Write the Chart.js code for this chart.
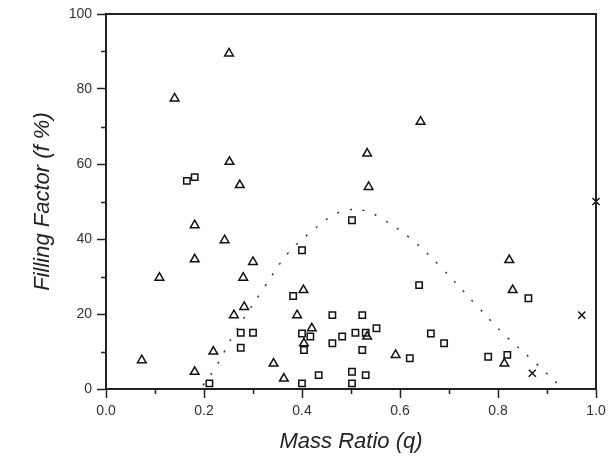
<!DOCTYPE html>
<html>
<head>
<meta charset="utf-8">
<script src="https://cdn.jsdelivr.net/npm/chart.js@4"></script>
<style>
  html, body { margin: 0; padding: 0; background: #fff; }
  #wrap { width: 615px; height: 459px; }
</style>
</head>
<body>
<div id="wrap"><canvas id="chart" width="615" height="459"></canvas></div>
<script>
// mass ratio q vs filling factor f (%)
const triQ = [0.251, 0.140, 0.252, 0.273, 0.642, 0.533, 0.536, 0.181, 0.242, 0.181, 0.109, 0.300, 0.280, 0.282, 0.261,
  0.073, 0.219, 0.181, 0.342, 0.403, 0.390, 0.420, 0.404, 0.533, 0.591, 0.363, 0.823, 0.830, 0.813];
const triF = [89.5, 77.5, 60.6, 54.4, 71.3, 62.8, 53.9, 43.7, 39.7, 34.6, 29.7, 33.9, 29.7, 21.9, 19.7,
  7.7, 10.0, 4.6, 6.8, 26.4, 19.7, 16.2, 12.2, 14.0, 9.1, 2.8, 34.4, 26.4, 6.8];

const sqQ = [0.181, 0.165, 0.502, 0.400, 0.382, 0.462, 0.523, 0.400, 0.417, 0.404, 0.482, 0.462, 0.509, 0.530, 0.552,
  0.523, 0.639, 0.663, 0.620, 0.400, 0.434, 0.502, 0.502, 0.530, 0.690, 0.862, 0.819, 0.780, 0.275, 0.300, 0.275, 0.211];
const sqF = [56.5, 55.5, 45.0, 37.0, 24.8, 19.7, 19.7, 14.8, 14.0, 10.4, 14.0, 12.2, 15.0, 15.0, 16.2,
  10.4, 27.7, 14.8, 8.2, 1.5, 3.7, 4.6, 1.5, 3.7, 12.2, 24.2, 9.1, 8.6, 15.0, 15.0, 11.0, 1.5];

const crQ = [1.0, 0.971, 0.870];
const crF = [50.0, 19.7, 4.2];

// dotted boundary curve
const fitQ = [0.198, 0.225, 0.26, 0.321, 0.372, 0.423, 0.458, 0.491, 0.53, 0.564, 0.62, 0.681, 0.759, 0.816, 0.877, 0.924];
const fitF = [1.0, 6.0, 14.4, 26.7, 36.3, 42.4, 45.9, 47.7, 47.5, 45.3, 40.3, 32.8, 21.9, 14.1, 6.9, 1.1];

const xTicks = ["0.0", "0.2", "0.4", "0.6", "0.8", "1.0"];
const yTicks = ["0", "20", "40", "60", "80", "100"];

const pts = (xs, ys) => xs.map((x, i) => ({ x, y: ys[i] }));

// short minor ticks between the labelled ones, plus the closed frame
const minorTicks = {
  id: "minorTicks",
  afterDraw(chart) {
    const { ctx, scales: { x, y } } = chart;
    ctx.save();
    ctx.strokeStyle = "#222";
    ctx.lineWidth = 1.5;
    ctx.beginPath();
    for (let v = 0.1; v < 1; v += 0.2) {
      const px = Math.round(x.getPixelForValue(v)) + 0.5;
      ctx.moveTo(px, x.top);
      ctx.lineTo(px, x.top + 5);
    }
    for (let v = 10; v < 100; v += 20) {
      const py = Math.round(y.getPixelForValue(v)) + 0.5;
      ctx.moveTo(y.right, py);
      ctx.lineTo(y.right - 5, py);
    }
    ctx.stroke();
    ctx.lineWidth = 2;
    ctx.strokeRect(x.left, y.top, x.right - x.left, y.bottom - y.top);
    ctx.restore();
  }
};

const marker = (label, data, style, r) => ({
  type: "scatter",
  label,
  data,
  pointStyle: style,
  pointRadius: r,
  pointBorderWidth: 1.5,
  borderColor: "#111",
  backgroundColor: "rgba(0,0,0,0)",
  clip: false
});

new Chart(document.getElementById("chart"), {
  data: {
    datasets: [
      {
        type: "line",
        label: "boundary",
        data: pts(fitQ, fitF),
        borderColor: "#333",
        borderWidth: 1.5,
        borderDash: [2, 11],
        pointRadius: 0,
        tension: 0.4,
        fill: false
      },
      marker("triangles", pts(triQ, triF), "triangle", 5),
      marker("squares", pts(sqQ, sqF), "rect", 4.5),
      marker("crosses", pts(crQ, crF), "crossRot", 5)
    ]
  },
  options: {
    responsive: false,
    animation: false,
    layout: { padding: { left: 26, right: 19, top: 14, bottom: 0 } },
    plugins: { legend: { display: false }, tooltip: { enabled: false } },
    scales: {
      x: {
        type: "linear",
        min: 0, max: 1,
        afterFit: s => { s.height = 70; },
        afterBuildTicks: s => { s.ticks = xTicks.map(t => ({ value: parseFloat(t) })); },
        ticks: {
          callback: (v, i) => xTicks[i],
          color: "#333",
          font: { family: "Liberation Sans", size: 14 },
          padding: 5
        },
        grid: { drawOnChartArea: false, tickLength: 9, tickWidth: 1.5, tickColor: "#222" },
        border: { color: "#222", width: 2 },
        title: {
          display: true,
          text: "Mass Ratio (q)",
          color: "#222",
          font: { family: "Liberation Sans", size: 22, style: "italic" },
          padding: { top: 1 }
        }
      },
      y: {
        type: "linear",
        min: 0, max: 100,
        afterFit: s => { s.width = 80; },
        afterBuildTicks: s => { s.ticks = yTicks.map(t => ({ value: parseFloat(t) })); },
        ticks: {
          callback: (v, i) => yTicks[i],
          color: "#333",
          font: { family: "Liberation Sans", size: 14 },
          padding: 5
        },
        grid: { drawOnChartArea: false, tickLength: 9, tickWidth: 1.5, tickColor: "#222" },
        border: { color: "#222", width: 2 },
        title: {
          display: true,
          text: "Filling Factor (f %)",
          color: "#222",
          font: { family: "Liberation Sans", size: 22, style: "italic" },
          padding: { bottom: 6 }
        }
      }
    }
  },
  plugins: [minorTicks]
});
</script>
</body>
</html>
